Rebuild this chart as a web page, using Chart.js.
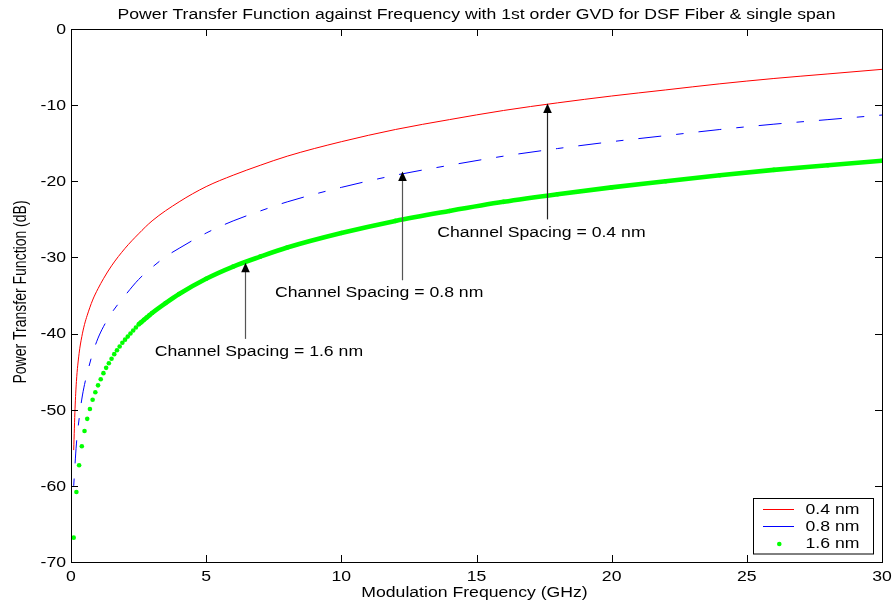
<!DOCTYPE html>
<html>
<head>
<meta charset="utf-8">
<script src="https://cdn.jsdelivr.net/npm/chart.js@4/dist/chart.umd.min.js"></script>
<style>
  html, body { margin: 0; padding: 0; background: #fff; }
  #wrap { width: 894px; height: 604px; }
</style>
</head>
<body>
<div id="wrap"><canvas id="chart" width="894" height="604"></canvas></div>
<script>
// values
const freqRed = [0.1, 0.15, 0.2, 0.3, 0.4, 0.5, 0.6, 0.8, 1, 1.2, 1.5, 2, 2.5, 3,
  4, 5, 6, 7, 8, 10, 12, 14, 16, 18, 20, 22, 24, 26, 28, 30];
const ptf04 = [-55.3, -49.8, -46.3, -42.6, -40.4, -38.8, -37.6, -35.6, -34.1, -32.8, -31.1, -28.8, -26.9, -25.2,
  -22.7, -20.7, -19.2, -17.9, -16.7, -14.8, -13.2, -11.9, -10.7, -9.7, -8.8, -8.0, -7.2, -6.5, -5.9, -5.3];

const freqBlue = [0.1, 0.2, 0.3, 0.4, 0.5, 0.6, 0.8, 1, 1.2, 1.5, 2, 2.5, 3, 3.5,
  4, 5, 6, 7, 8, 10, 12, 14, 16, 18, 20, 22, 24, 26, 28, 30];
const ptf08 = [-60.0, -54.5, -51.2, -48.6, -46.7, -45.2, -42.6, -40.6, -39.1, -37.3, -35.0, -32.9, -31.3, -29.9,
  -28.8, -26.8, -25.2, -23.9, -22.7, -20.8, -19.2, -17.9, -16.7, -15.7, -14.8, -14.0, -13.2, -12.5, -11.9, -11.3];

const freqDots = [0.1, 0.2, 0.3, 0.4, 0.5, 0.6, 0.7, 0.8, 0.9, 1.0,
  1.1, 1.2, 1.3, 1.4, 1.5, 1.6, 1.7, 1.8, 1.9, 2.0,
  2.1, 2.2, 2.3, 2.4, 2.5, 2.6, 2.7, 2.8, 2.9, 3.0,
  3.5, 4, 5, 6, 7, 8, 10, 12, 14, 16, 18, 20, 22, 24, 26, 28, 30];
const ptf16 = [-66.8, -60.8, -57.3, -54.8, -52.8, -51.2, -49.9, -48.7, -47.7, -46.8,
  -46.0, -45.2, -44.5, -43.9, -43.3, -42.7, -42.2, -41.7, -41.2, -40.8,
  -40.4, -40.0, -39.6, -39.2, -38.8, -38.5, -38.2, -37.9, -37.6, -37.3,
  -36.0, -34.8, -32.8, -31.2, -29.9, -28.7, -26.8, -25.2, -23.9, -22.7, -21.7, -20.8, -20.0, -19.2, -18.5, -17.9, -17.3];

const seriesLabels = ['0.4 nm', '0.8 nm', '1.6 nm'];
const xTicks = [0, 5, 10, 15, 20, 25, 30];
const yTicks = [-70, -60, -50, -40, -30, -20, -10, 0];

const titleText = 'Power Transfer Function against Frequency with 1st order GVD for DSF Fiber & single span';
const xTitle = 'Modulation Frequency (GHz)';
const yTitle = 'Power Transfer Function (dB)';

// arrow notes: arrow x, tip y, tail y, text centre (data units)
const notes = [
  { text: 'Channel Spacing = 0.4 nm', ax: 17.6, tip: -9.8, tail: -25.0, tx: 17.4, ty: -26.8, line: '#222' },
  { text: 'Channel Spacing = 0.8 nm', ax: 12.25, tip: -18.7, tail: -33.0, tx: 11.4, ty: -34.7, line: '#555' },
  { text: 'Channel Spacing = 1.6 nm', ax: 6.45, tip: -30.7, tail: -40.7, tx: 6.95, ty: -42.5, line: '#555' },
];

const STRETCH = 1.26;
const FONT = '14px "Liberation Sans", Arial, Helvetica, sans-serif';
const DOT_LINE_FROM = 2.5;

function toPoints(xs, ys) {
  return xs.map((x, i) => ({ x, y: ys[i] }));
}

function wideText(ctx, text, x, y, align) {
  ctx.save();
  ctx.translate(x, y);
  ctx.scale(STRETCH, 1);
  ctx.textAlign = align;
  ctx.textBaseline = 'middle';
  ctx.fillText(text, 0, 0);
  ctx.restore();
}

const whiteBg = {
  id: 'whiteBg',
  beforeDraw(chart) {
    const { ctx, width, height } = chart;
    ctx.save();
    ctx.fillStyle = '#fff';
    ctx.fillRect(0, 0, width, height);
    ctx.restore();
  },
};

const frame = {
  id: 'frame',
  afterDraw(chart) {
    const { ctx, chartArea: a, scales: { x, y } } = chart;
    ctx.save();
    ctx.strokeStyle = '#000';
    ctx.lineWidth = 1;
    ctx.strokeRect(a.left + 0.5, a.top + 0.5, a.right - a.left, a.bottom - a.top);

    ctx.beginPath();
    xTicks.forEach((v) => {
      const px = Math.round(x.getPixelForValue(v)) + 0.5;
      ctx.moveTo(px, a.bottom);
      ctx.lineTo(px, a.bottom - 7);
      ctx.moveTo(px, a.top);
      ctx.lineTo(px, a.top + 7);
    });
    yTicks.forEach((v) => {
      const py = Math.round(y.getPixelForValue(v)) + 0.5;
      ctx.moveTo(a.left, py);
      ctx.lineTo(a.left + 7, py);
      ctx.moveTo(a.right, py);
      ctx.lineTo(a.right - 7, py);
    });
    ctx.stroke();

    ctx.fillStyle = '#000';
    ctx.font = FONT;
    xTicks.forEach((v) => wideText(ctx, String(v), x.getPixelForValue(v), a.bottom + 15, 'center'));
    yTicks.forEach((v) => wideText(ctx, String(v), a.left - 5, y.getPixelForValue(v) + 1, 'right'));

    // titles
    wideText(ctx, titleText, (a.left + a.right) / 2, 15, 'center');
    wideText(ctx, xTitle, (a.left + a.right) / 2 - 2, 593, 'center');
    ctx.save();
    ctx.translate(21, 292);
    ctx.scale(STRETCH, 1);
    ctx.rotate(-Math.PI / 2);
    ctx.textAlign = 'center';
    ctx.textBaseline = 'middle';
    ctx.fillText(yTitle, 0, 0);
    ctx.restore();

    // arrows with notes
    notes.forEach((n) => {
      const ax = Math.round(x.getPixelForValue(n.ax)) + 0.5;
      const tipY = y.getPixelForValue(n.tip);
      const tailY = y.getPixelForValue(n.tail);
      ctx.strokeStyle = n.line;
      ctx.lineWidth = 1.2;
      ctx.beginPath();
      ctx.moveTo(ax, tailY);
      ctx.lineTo(ax, tipY + 8);
      ctx.stroke();
      ctx.fillStyle = '#000';
      ctx.beginPath();
      ctx.moveTo(ax, tipY);
      ctx.lineTo(ax - 4.3, tipY + 9.5);
      ctx.lineTo(ax + 4.3, tipY + 9.5);
      ctx.closePath();
      ctx.fill();
      wideText(ctx, n.text, x.getPixelForValue(n.tx), y.getPixelForValue(n.ty), 'center');
    });

    // legend box
    const lx = 753.5, ly = 498.5, lw = 120, lh = 55.5;
    ctx.fillStyle = '#fff';
    ctx.fillRect(lx, ly, lw, lh);
    ctx.strokeStyle = '#000';
    ctx.lineWidth = 1;
    ctx.strokeRect(lx, ly, lw, lh);
    const rows = [509.5, 526.5, 544];
    chart.data.datasets.forEach((ds, i) => {
      const ry = rows[i];
      if (i < 2) {
        ctx.strokeStyle = ds.borderColor;
        ctx.lineWidth = 1;
        ctx.beginPath();
        ctx.moveTo(763, ry);
        ctx.lineTo(794, ry);
        ctx.stroke();
      } else {
        ctx.fillStyle = ds.pointBackgroundColor;
        ctx.beginPath();
        ctx.arc(779.3, ry, 2.3, 0, Math.PI * 2);
        ctx.fill();
      }
      ctx.fillStyle = '#000';
      wideText(ctx, ds.label, 805.5, ry + 0.5, 'left');
    });
    ctx.restore();
  },
};

const chart = new Chart(document.getElementById('chart'), {
  type: 'line',
  data: {
    datasets: [
      {
        label: seriesLabels[0],
        data: toPoints(freqRed, ptf04),
        borderColor: '#ff0000',
        borderWidth: 1,
        pointRadius: 0,
        cubicInterpolationMode: 'monotone',
      },
      {
        label: seriesLabels[1],
        data: toPoints(freqBlue, ptf08),
        borderColor: '#0000ff',
        borderWidth: 1,
        borderDash: [7.5, 15, 23, 15],
        pointRadius: 0,
        cubicInterpolationMode: 'monotone',
      },
      {
        label: seriesLabels[2],
        data: toPoints(freqDots, ptf16),
        borderColor: '#00ff00',
        borderWidth: 4.6,
        pointRadius: 2.3,
        pointBorderWidth: 0,
        pointBackgroundColor: '#00ff00',
        cubicInterpolationMode: 'monotone',
        segment: {
          borderColor: (c) => (c.p0.parsed.x < DOT_LINE_FROM - 0.01 ? 'rgba(0,0,0,0)' : '#00ff00'),
        },
      },
    ],
  },
  options: {
    responsive: false,
    animation: false,
    devicePixelRatio: 1,
    layout: { padding: { left: 71, top: 29, right: 12, bottom: 42 } },
    plugins: {
      legend: { display: false },
      title: { display: false },
      tooltip: { enabled: false },
    },
    scales: {
      x: { type: 'linear', min: 0, max: 30, display: false },
      y: { type: 'linear', min: -70, max: 0, display: false },
    },
  },
  plugins: [whiteBg, frame],
});
</script>
</body>
</html>
